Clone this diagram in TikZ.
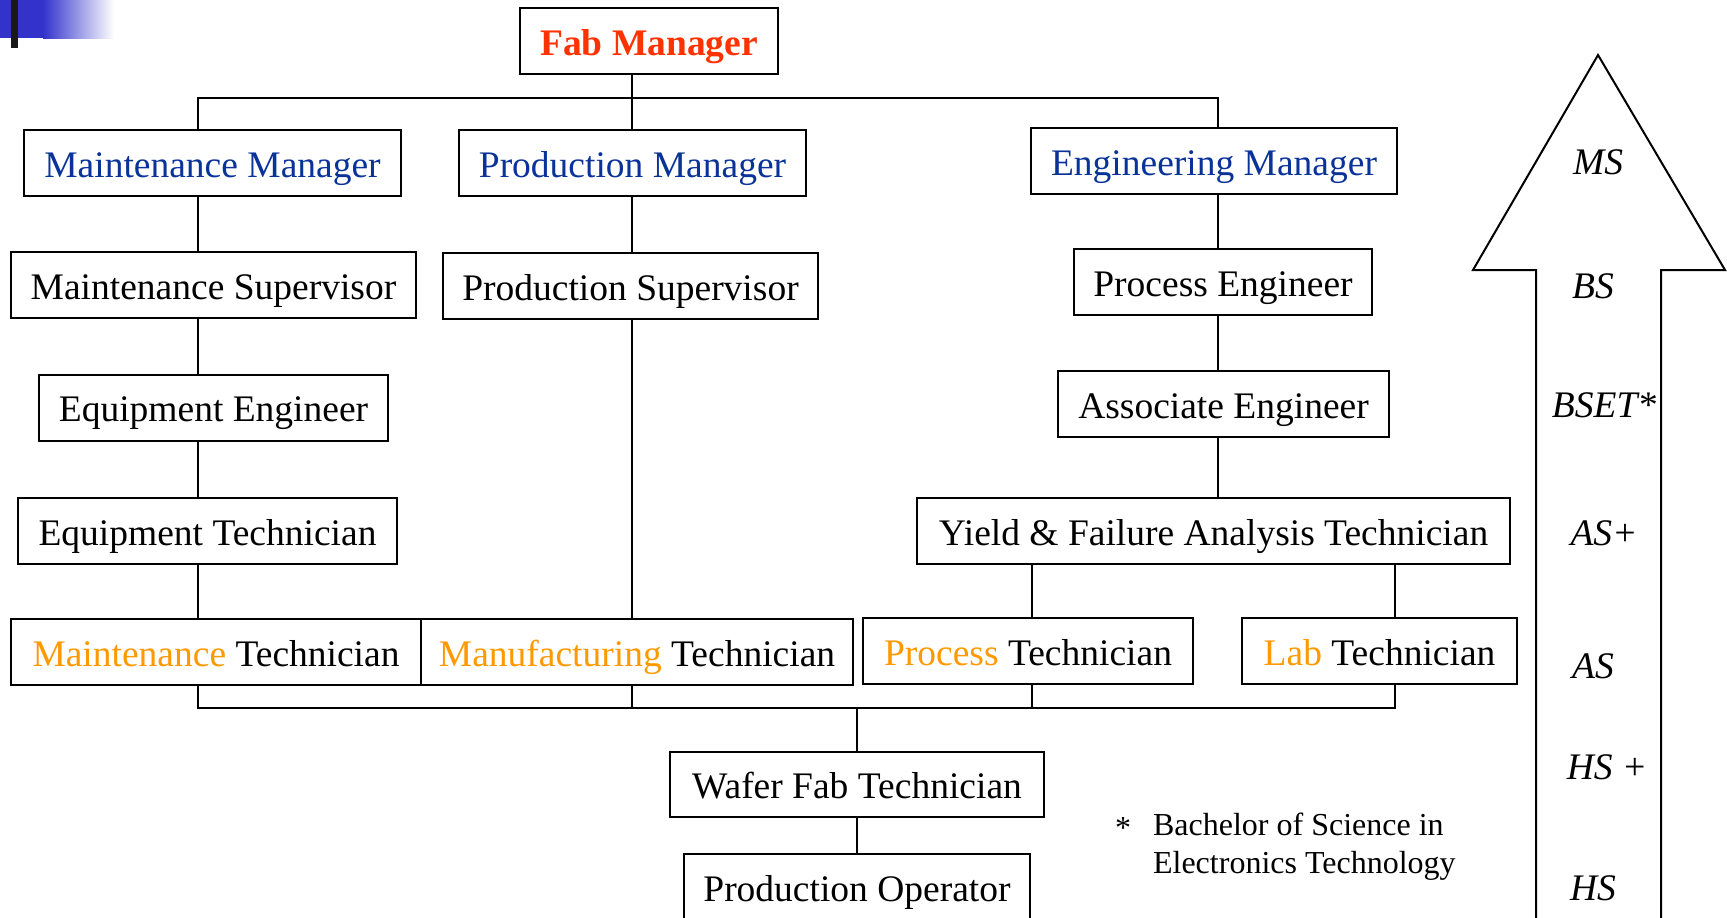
\documentclass[tikz,border=0pt]{standalone}
\usepackage{fontspec}
\setmainfont{Liberation Serif}

\definecolor{mgrblue}{RGB}{10,51,153}
\definecolor{techorange}{RGB}{255,153,0}
\definecolor{fabred}{RGB}{255,51,0}
\definecolor{barblue}{RGB}{51,51,204}

\newcommand\chartfont{\fontsize{18.75}{22}\selectfont}
\newcommand\notefont{\fontsize{16}{19}\selectfont}
\newcommand\tech[1]{\textcolor{techorange}{#1} Technician}

\tikzset{
  post/.style={draw, line width=1pt, fill=white, inner sep=0pt,
    minimum height=33pt, text height=15pt, text depth=1pt, font=\chartfont},
  wire/.style={line width=1pt},
  level/.style={font=\chartfont\itshape},
}

\begin{document}
\begin{tikzpicture}[x=0.5pt, y=-0.5pt]

\useasboundingbox (0,0) rectangle (1727,917);
\clip (0,0) rectangle (1727,917);

% corner mark
\fill[barblue] (0,0) rectangle (43,38);
\shade[left color=barblue, right color=white] (43,0) rectangle (114,38);
\fill[black!90] (11,0) rectangle (18,48);

% top of the chart
\node[post, minimum width=129pt, text=fabred, font=\chartfont\bfseries] (fab) at (649,41) {Fab Manager};

\node[post, minimum width=188.5pt, text=mgrblue] (maintmgr) at (212.5,163) {Maintenance Manager};
\node[post, minimum width=173.5pt, text=mgrblue] (prodmgr) at (632.5,163) {Production Manager};
\node[post, minimum width=183pt, text=mgrblue] (engmgr) at (1214,161) {Engineering Manager};

\node[post, minimum width=202.5pt] (maintsup) at (213.5,285) {Maintenance Supervisor};
\node[post, minimum width=187.5pt] (prodsup) at (630.5,286) {Production Supervisor};
\node[post, minimum width=149pt] (proceng) at (1223,282) {Process Engineer};

\node[post, minimum width=174.5pt] (equipeng) at (213.5,407.5) {Equipment Engineer};
\node[post, minimum width=165.5pt] (assoceng) at (1223.5,404) {Associate Engineer};

\node[post, minimum width=189.5pt] (equiptech) at (207.5,531) {Equipment Technician};
\node[post, minimum width=296.5pt] (yfa) at (1213.5,531) {Yield \& Failure Analysis Technician};

% technician row
\node[post, minimum width=205pt] (mainttech) at (216,652) {\tech{Maintenance}};
\node[post, minimum width=216pt] (manuftech) at (637,652) {\tech{Manufacturing}};
\node[post, minimum width=165pt] (proctech) at (1028,651) {\tech{Process}};
\node[post, minimum width=137.5pt] (labtech) at (1379.5,651) {\tech{Lab}};

\node[post, minimum width=187pt, minimum height=32.5pt] (wafer) at (857,784.5) {Wafer Fab Technician};
\node[post, minimum width=173pt] (prodop) at (857,887) {Production Operator};

% line positions
\coordinate (lcol) at (198,0);
\coordinate (mcol) at (632,0);
\coordinate (rcol) at (1218,0);
\coordinate (pcol) at (1032,0);
\coordinate (labcol) at (1395,0);
\coordinate (topbus) at (0,98);
\coordinate (lowbus) at (0,708);

\draw[wire] (mcol |- fab.south) -- (mcol |- prodmgr.north);
\draw[wire] (lcol |- maintmgr.north) |- (rcol |- topbus) -- (rcol |- engmgr.north);

\foreach \a/\b in {maintmgr/maintsup, maintsup/equipeng, equipeng/equiptech, equiptech/mainttech}
  \draw[wire] (lcol |- \a.south) -- (lcol |- \b.north);
\foreach \a/\b in {prodmgr/prodsup, prodsup/manuftech}
  \draw[wire] (mcol |- \a.south) -- (mcol |- \b.north);
\foreach \a/\b in {engmgr/proceng, proceng/assoceng, assoceng/yfa}
  \draw[wire] (rcol |- \a.south) -- (rcol |- \b.north);

\draw[wire] (pcol |- yfa.south) -- (pcol |- proctech.north);
\draw[wire] (labcol |- yfa.south) -- (labcol |- labtech.north);

% lower bus
\draw[wire] (lcol |- mainttech.south) |- (labcol |- lowbus) -- (labcol |- labtech.south);
\draw[wire] (mcol |- manuftech.south) -- (mcol |- lowbus);
\draw[wire] (pcol |- proctech.south) -- (pcol |- lowbus);
\draw[wire] (wafer.north |- lowbus) -- (wafer.north);
\draw[wire] (wafer) -- (prodop);

% degree arrow
\draw[wire] (1536,930) -- (1536,270) -- (1473,270) -- (1598,55)
  -- (1725,270) -- (1661,270) -- (1661,930);

\node[level] (ms) at (1598,162) {MS};
\node[level] (bs) at (1593,286) {BS};
\node[level] (bset) at (1604,405) {BSET*};
\node[level] (asplus) at (1604,533) {AS+};
\node[level] (as) at (1593,666) {AS};
\node[level] (hsplus) at (1607,767) {HS +};
\node[level] (hs) at (1593,888) {HS};

% footnote
\node[font=\notefont, anchor=base] (star) at (1123,838) {*};
\node[font=\notefont, anchor=west, align=left] (note) at (1146,847) {Bachelor of Science in\\Electronics Technology};

\end{tikzpicture}
\end{document}
